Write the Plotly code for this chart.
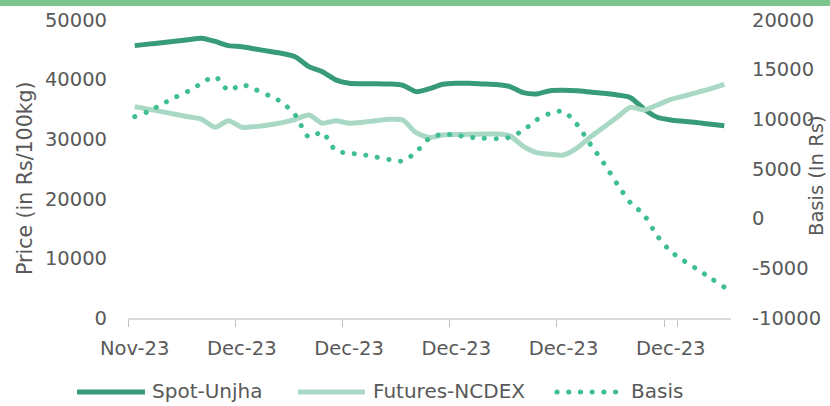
import plotly.graph_objects as go

# ---------------- data ----------------
categories = [f"P{i:02d}" for i in range(1, 46)]
tick_positions = [categories[i] for i in (0, 8, 16, 24, 32, 40)]
tick_labels = ["Nov-23", "Dec-23", "Dec-23", "Dec-23", "Dec-23", "Dec-23"]

spot_unjha = [45700, 45950, 46200, 46450, 46700, 46950, 46400, 45700, 45520, 45140,
              44750, 44400, 43800, 42170, 41330, 39960, 39380, 39320, 39320, 39270,
              39050, 37980, 38480, 39210, 39380, 39380, 39270, 39160, 38820, 37810,
              37590, 38140, 38200, 38140, 37920, 37700, 37420, 36970, 35070, 33680,
              33220, 33000, 32780, 32500, 32270]

futures_ncdex = [35460, 35040, 34620, 34200, 33760, 33340, 32000, 33110, 32000, 32110,
                 32390, 32780, 33340, 34050, 32670, 33110, 32670, 32830, 33110, 33340,
                 33220, 31100, 30290, 30700, 30790, 30820, 30870, 30870, 30560, 28800,
                 27740, 27470, 27350, 28500, 30370, 32000, 33680, 35360, 34900, 35740,
                 36690, 37250, 37870, 38480, 39210]

basis = [10270, 10780, 11500, 12200, 12830, 13650, 14300, 12900, 13490, 13000,
         12400, 11700, 10400, 8200, 8700, 6850, 6600, 6450, 6200, 5950,
         5800, 6700, 8100, 8500, 8400, 8200, 8100, 8050, 8200, 8900,
         9950, 10600, 10800, 9500, 7500, 5600, 3500, 1600, 400, -1740,
         -3300, -4250, -5100, -6000, -6900]

basis_ticks = [-10000, -5000, 0, 5000, 10000, 15000, 20000]
basis_tick_labels = ["-10000", "-5000", "0", "5000", "10000", "15000", "20000"]

series_names = ["Spot-Unjha", "Futures-NCDEX", "Basis"]
left_axis_title = "Price (in Rs/100kg)"
right_axis_title = "Basis (In Rs)"

# ---------------- style ----------------
C_SPOT = "#379B79"
C_FUT = "#A9D9C5"
C_BASIS = "#3FBE90"
C_TEXT = "#595959"
C_AXIS = "#D9D9D9"
C_BAND = "#7DC48F"
FONT = "DejaVu Sans"

W, H = 830, 406
ML, MR, MT, MB = 128, 99, 20, 88
PW, PH = W - ML - MR, H - MT - MB


def px(xpix):
    return (xpix - ML) / PW


def py(ypix):
    return (H - MB - ypix) / PH


fig = go.Figure()
fig.add_trace(go.Scatter(x=categories, y=spot_unjha, name=series_names[0], mode="lines",
                         line=dict(color=C_SPOT, width=5, shape="spline", smoothing=0.7)))
fig.add_trace(go.Scatter(x=categories, y=futures_ncdex, name=series_names[1], mode="lines",
                         line=dict(color=C_FUT, width=5, shape="spline", smoothing=0.7)))
fig.add_trace(go.Scatter(x=categories, y=basis, name=series_names[2], mode="lines", yaxis="y2",
                         line=dict(color=C_BASIS, width=5, shape="spline", smoothing=0.7,
                                   dash="4.5px,7.2px")))

shapes = [
    dict(type="rect", xref="paper", yref="paper", x0=px(0), x1=px(W), y0=py(6), y1=py(0),
         fillcolor=C_BAND, line=dict(width=0), layer="above"),
]
annotations = [
    dict(text=left_axis_title, xref="paper", yref="paper", x=px(25), y=py(178),
         textangle=-90, showarrow=False, font=dict(family=FONT, size=20.5, color=C_TEXT),
         xanchor="center", yanchor="middle"),
    dict(text=right_axis_title, xref="paper", yref="paper", x=px(816), y=py(176),
         textangle=-90, showarrow=False, font=dict(family=FONT, size=19.5, color=C_TEXT),
         xanchor="center", yanchor="middle"),
]

legend_items = [
    (series_names[0], C_SPOT, 5, "solid", 77, 145, 150),
    (series_names[1], C_FUT, 5, "solid", 298, 365, 371),
    (series_names[2], C_BASIS, 5, "4.5px,7.2px", 557, 622, 629),
]
LEG_Y = 391
for name, col, w, dash, x0, x1, xt in legend_items:
    shapes.append(dict(type="line", xref="paper", yref="paper", x0=px(x0), x1=px(x1),
                       y0=py(LEG_Y + 1), y1=py(LEG_Y + 1), line=dict(color=col, width=w, dash=dash)))
    annotations.append(dict(text=name, xref="paper", yref="paper", x=px(xt), y=py(LEG_Y),
                            showarrow=False, xanchor="left", yanchor="middle",
                            font=dict(family=FONT, size=20, color=C_TEXT)))

fig.update_layout(
    width=W, height=H,
    margin=dict(l=ML, r=MR, t=MT, b=MB, autoexpand=False),
    paper_bgcolor="white", plot_bgcolor="white",
    showlegend=False,
    font=dict(family=FONT, color=C_TEXT),
    xaxis=dict(type="category", categoryorder="array", categoryarray=categories,
               range=[-0.5, len(categories) - 0.5],
               tickmode="array", tickvals=tick_positions, ticktext=tick_labels,
               tickson="boundaries", ticks="outside", ticklen=7, tickcolor="#BFBFBF",
               tickwidth=1, showline=True, linecolor=C_AXIS, linewidth=1.5,
               showgrid=False, zeroline=False, tickangle=0, ticklabelstandoff=12,
               tickfont=dict(family=FONT, size=19.5, color=C_TEXT)),
    yaxis=dict(range=[0, 50000], dtick=10000, showgrid=False, zeroline=False,
               showline=False, ticks="", ticklabelstandoff=20, tickformat="d",
               tickfont=dict(family=FONT, size=19.5, color=C_TEXT)),
    yaxis2=dict(range=[-10000, 20000], overlaying="y", side="right",
                tickmode="array", tickvals=basis_ticks, ticktext=basis_tick_labels,
                showgrid=False, zeroline=False, showline=False, ticks="",
                ticklabelstandoff=20,
                tickfont=dict(family=FONT, size=19.5, color=C_TEXT)),
    shapes=shapes,
    annotations=annotations,
)

post = """
document.documentElement.style.margin = '0';
document.documentElement.style.padding = '0';
document.body.style.margin = '0';
document.body.style.padding = '0';
var gd = document.getElementById('{plot_id}');
function roundDots(){
  gd.querySelectorAll('path').forEach(function(p){
    var d = p.style.strokeDasharray;
    if (d && d.indexOf('7.2') >= 0) {
      p.style.strokeLinecap = 'round';
      p.style.strokeDasharray = '0.1px,11.6px';
    }
  });
}
roundDots();
"""

fig.write_html("out.html", post_script=post, config={"displayModeBar": False})
